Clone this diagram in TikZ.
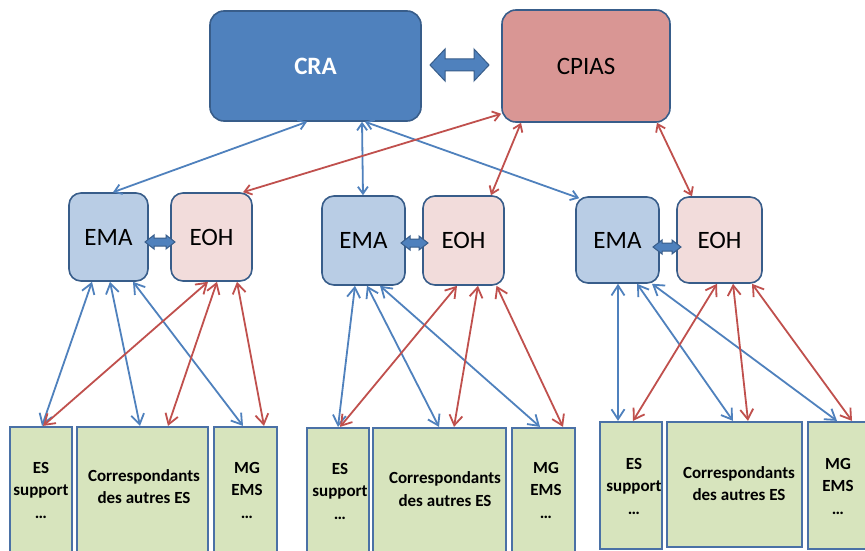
\documentclass[tikz,border=0pt]{standalone}
\usepackage{fontspec}
\setmainfont{Carlito}
\usetikzlibrary{arrows.meta}
\definecolor{craFill}{HTML}{4F81BD}
\definecolor{cpiasFill}{HTML}{D99694}
\definecolor{emaFill}{HTML}{B9CDE5}
\definecolor{eohFill}{HTML}{F2DCDB}
\definecolor{esFill}{HTML}{D7E4BD}
\definecolor{bord}{HTML}{385D8A}
\definecolor{bordLow}{HTML}{4A71A6}
\definecolor{lineBlue}{HTML}{4F81BD}
\definecolor{lineRed}{HTML}{C0504D}
\tikzset{
  topbox/.style={draw=bord, line width=1.6pt, rounded corners=14pt, inner sep=0pt, font=\fontsize{25}{30}\selectfont},
  midbox/.style={draw=bord, line width=1.6pt, rounded corners=12pt, inner sep=0pt, font=\fontsize{25}{30}\selectfont},
  lowbox/.style={draw=bordLow, line width=2.2pt, fill=esFill, inner sep=0pt},
  lowtxt/.style={align=center, inner sep=0pt, font=\bfseries\fontsize{17}{22.5}\selectfont},
  blink/.style={draw=lineBlue, line width=1.8pt, {Straight Barb[length=7pt,width=10pt]}-{Straight Barb[length=7pt,width=10pt]}},
  rlink/.style={draw=lineRed, line width=1.8pt, {Straight Barb[length=7pt,width=10pt]}-{Straight Barb[length=7pt,width=10pt]}},
  blinkL/.style={draw=lineBlue, line width=1.8pt, {Straight Barb[length=10pt,width=13pt]}-{Straight Barb[length=10pt,width=13pt]}},
  rlinkL/.style={draw=lineRed, line width=1.8pt, {Straight Barb[length=10pt,width=13pt]}-{Straight Barb[length=10pt,width=13pt]}},
  blockarr/.style={draw=bord, line width=1pt, fill=craFill, line join=miter},
  pics/barrow/.style args={#1/#2/#3/#4}{code={
    \draw[blockarr] (0,0) -- (#3,-#2) -- (#3,-#4) -- (#1-#3,-#4) -- (#1-#3,-#2) -- (#1,0)
      -- (#1-#3,#2) -- (#1-#3,#4) -- (#3,#4) -- (#3,#2) -- cycle;
  }}
}
\begin{document}
\begin{tikzpicture}[x=1pt,y=-1pt]
\useasboundingbox (0,0) rectangle (865,551);
\clip (0,0) rectangle (865,551);
\fill[white] (0,0) rectangle (865,551);

% top level
\node[topbox, fill=craFill, text=white, minimum width=211pt, minimum height=110pt, font=\bfseries\fontsize{25}{30}\selectfont] (cra) at (315.5,66) {CRA};
\node[topbox, fill=cpiasFill, minimum width=168pt, minimum height=112pt] (cpias) at (586,66) {CPIAS};
\pic at (430,65) {barrow=59/16/15/6};

% middle level
\node[midbox, fill=emaFill, minimum width=79pt, minimum height=88pt] (ema1) at (108.5,237) {EMA};
\node[midbox, fill=eohFill, minimum width=81pt, minimum height=88pt] (eoh1) at (211.5,237) {EOH};
\node[midbox, fill=emaFill, minimum width=83pt, minimum height=89pt] (ema2) at (363.5,240.5) {EMA};
\node[midbox, fill=eohFill, minimum width=81pt, minimum height=89pt] (eoh2) at (463.5,240.5) {EOH};
\node[midbox, fill=emaFill, minimum width=83pt, minimum height=86pt] (ema3) at (617.5,240) {EMA};
\node[midbox, fill=eohFill, minimum width=85pt, minimum height=86pt] (eoh3) at (719.5,240) {EOH};
\pic at (145,242) {barrow=30/7/9/4};
\pic at (401,243) {barrow=27/7/9/4};
\pic at (653,247) {barrow=28/7/9/4};

% bottom level boxes
\node[lowbox, minimum width=62pt, minimum height=133pt] (es1) at (41,493.5) {};
\node[lowbox, minimum width=131pt, minimum height=133pt] (co1) at (142.5,493.5) {};
\node[lowbox, minimum width=63pt, minimum height=133pt] (mg1) at (245.5,493.5) {};
\node[lowbox, minimum width=62pt, minimum height=132pt] (es2) at (338,494) {};
\node[lowbox, minimum width=133pt, minimum height=132pt] (co2) at (439.5,494) {};
\node[lowbox, minimum width=63pt, minimum height=132pt] (mg2) at (543.5,494) {};
\node[lowbox, minimum width=62pt, minimum height=127pt] (es3) at (631,485.5) {};
\node[lowbox, minimum width=135pt, minimum height=125pt] (co3) at (734.5,484.5) {};
\node[lowbox, minimum width=72pt, minimum height=127pt] (mg3) at (844,485.5) {};

% bottom texts
\node[lowtxt] (tes1) at (41,490) {ES\\support\\…};
\node[lowtxt] (tco1) at (144,486.5) {Correspondants\\des autres ES};
\node[lowtxt] (tmg1) at (247,490) {MG\\EMS\\…};
\node[lowtxt] (tes2) at (340,491) {ES\\support\\…};
\node[lowtxt] (tco2) at (445,489) {Correspondants\\des autres ES};
\node[lowtxt] (tmg2) at (546,490) {MG\\EMS\\…};
\node[lowtxt] (tes3) at (634,486) {ES\\support\\…};
\node[lowtxt] (tco3) at (739,483.5) {Correspondants\\des autres ES};
\node[lowtxt] (tmg3) at (838,486) {MG\\EMS\\…};

% top links
\draw[blink] ([xshift=-8.5pt]cra.south) -- ([xshift=4.5pt]ema1.north);
\draw[blink] ([xshift=46.5pt]cra.south) -- ([xshift=-0.5pt]ema2.north);
\draw[blink] ([xshift=49.5pt]cra.south) -- ([xshift=4pt,yshift=-2pt]ema3.north west);
\draw[rlink] ([yshift=9pt]cpias.south west) -- ([xshift=31.5pt]eoh1.north);
\draw[rlink] ([xshift=-65pt]cpias.south) -- ([xshift=27.5pt]eoh2.north);
\draw[rlink] ([xshift=71pt]cpias.south) -- ([xshift=-27.5pt]eoh3.north);

% group 1 links
\draw[blinkL] ([xshift=-16.5pt]ema1.south) -- ([xshift=1pt]es1.north);
\draw[blinkL] ([xshift=1.5pt]ema1.south) -- ([xshift=-2.5pt]co1.north);
\draw[blinkL] ([xshift=24.5pt]ema1.south) -- ([xshift=-2.5pt]mg1.north);
\draw[rlinkL] ([xshift=-3.5pt]eoh1.south) -- ([xshift=2pt]es1.north);
\draw[rlinkL] ([xshift=5.5pt]eoh1.south) -- ([xshift=25.5pt]co1.north);
\draw[rlinkL] ([xshift=25.5pt]eoh1.south) -- ([xshift=18.5pt]mg1.north);

% group 2 links
\draw[blinkL] ([xshift=-8.5pt]ema2.south) -- (es2.north);
\draw[blinkL] ([xshift=3.5pt]ema2.south) -- ([xshift=-0.5pt]co2.north);
\draw[blinkL] ([xshift=16.5pt]ema2.south) -- ([xshift=-3.5pt]mg2.north);
\draw[rlinkL] ([xshift=-6.5pt]eoh2.south) -- ([xshift=2pt]es2.north);
\draw[rlinkL] ([xshift=14.5pt]eoh2.south) -- ([xshift=14.5pt]co2.north);
\draw[rlinkL] ([xshift=33pt]eoh2.south) -- ([xshift=19.5pt]mg2.north);

% group 3 links
\draw[blinkL] ([xshift=0.5pt]ema3.south) -- ([xshift=-13pt]es3.north);
\draw[blinkL] ([xshift=19.5pt]ema3.south) -- ([xshift=-1.5pt]co3.north);
\draw[blinkL] ([xshift=34.5pt]ema3.south) -- ([xshift=-7pt]mg3.north);
\draw[rlinkL] ([xshift=-2.5pt]eoh3.south) -- ([xshift=2pt]es3.north);
\draw[rlinkL] ([xshift=13.5pt]eoh3.south) -- ([xshift=13.5pt]co3.north);
\draw[rlinkL] ([xshift=32.5pt]eoh3.south) -- ([xshift=8pt]mg3.north);
\end{tikzpicture}
\end{document}
